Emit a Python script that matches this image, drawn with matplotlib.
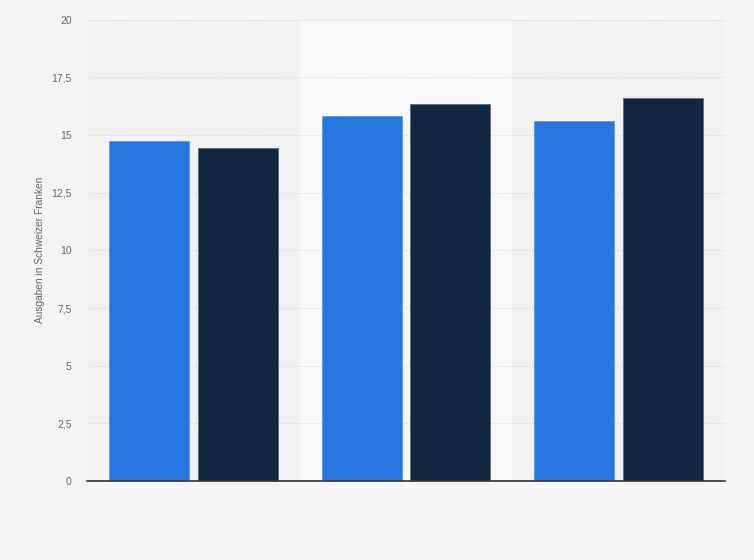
import matplotlib
matplotlib.use("Agg")
import matplotlib.pyplot as plt
import numpy as np

plt.rcParams["font.family"] = ["Liberation Sans", "DejaVu Sans"]

categories = ["Gruppe 1", "Gruppe 2", "Gruppe 3"]
series_a = [14.72, 15.82, 15.59]
series_b = [14.42, 16.34, 16.59]
yticks = [0, 2.5, 5, 7.5, 10, 12.5, 15, 17.5, 20]
ytick_labels = ["0", "2,5", "5", "7,5", "10", "12,5", "15", "17,5", "20"]

fig = plt.figure(figsize=(7.54, 5.6), dpi=100)
fig.patch.set_facecolor("#f4f4f4")
ax = fig.add_axes([87/754, 1-481/560, (725-87)/754, (481-19.7)/560])
ax.set_facecolor("#f2f2f2")

x = np.arange(len(categories))
w = 0.376
off = 0.209
ax.axvspan(0.5, 1.5, color="#f8f8f8", zorder=0, lw=0)
ax.bar(x - off, series_a, w, color="#2876dd", edgecolor="#5b97e6", linewidth=0.6, zorder=3)
ax.bar(x + off, series_b, w, color="#10273d", edgecolor="#5d6b78", linewidth=0.6, zorder=3)

ax.set_xlim(-0.5, 2.5)
ax.set_ylim(0, 20)
ax.set_yticks(yticks)
ax.set_yticklabels(ytick_labels)
ax.set_xticks([])
ax.yaxis.grid(True, linestyle=(0, (1, 1.5)), color="#d6d6d6", linewidth=0.8, zorder=1)
ax.set_axisbelow(True)
for s in ["top", "right", "left"]:
    ax.spines[s].set_visible(False)
ax.spines["bottom"].set_color("#333333")
ax.spines["bottom"].set_linewidth(1.2)
ax.spines["bottom"].set_zorder(4)
ax.tick_params(axis="y", length=0, labelsize=7.5, labelcolor="#666666", pad=11)
fig.text(40/754, 1-250/560, "Ausgaben in Schweizer Franken", rotation=90,
         ha="center", va="center", fontsize=7.3, color="#666666")

fig.savefig("out.png", dpi=100, facecolor=fig.get_facecolor())
